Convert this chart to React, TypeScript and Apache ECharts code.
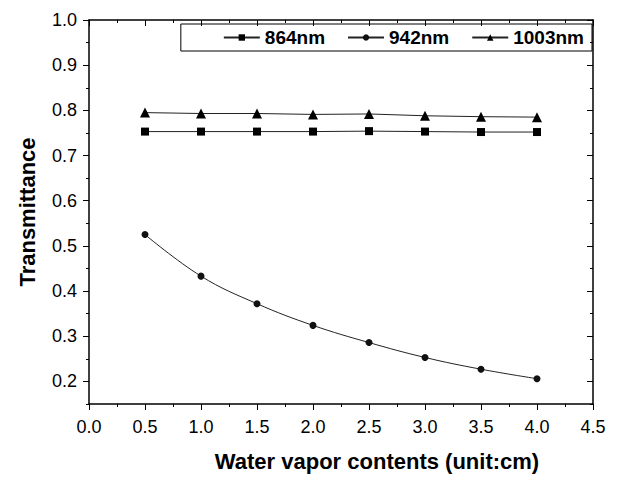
import React, { useEffect, useRef } from "react";
import * as echarts from "echarts";

const xValues = [0.5, 1.0, 1.5, 2.0, 2.5, 3.0, 3.5, 4.0];
const s864 = [0.753, 0.753, 0.753, 0.753, 0.754, 0.753, 0.752, 0.752];
const s942 = [0.525, 0.433, 0.372, 0.324, 0.286, 0.253, 0.227, 0.206];
const s1003 = [0.795, 0.793, 0.793, 0.791, 0.792, 0.788, 0.786, 0.785];
const seriesNames = ["864nm", "942nm", "1003nm"];
const yMajorTicks = [0.2, 0.3, 0.4, 0.5, 0.6, 0.7, 0.8, 0.9, 1.0];
const yMinorTicks = [0.15, 0.25, 0.35, 0.45, 0.55, 0.65, 0.75, 0.85, 0.95];

const FONT = "'Liberation Sans', Arial, sans-serif";

export default function App() {
  const ref = useRef<HTMLDivElement>(null);
  useEffect(() => {
    if (!ref.current) return;
    const chart = echarts.init(ref.current, undefined, { renderer: "svg" });
    const pair = (arr: number[]) => xValues.map((x, i) => [x, arr[i]]);
    const lineStyle = { color: "#222", width: 1 };
    const xBase = {
      type: "value" as const,
      min: 0,
      max: 4.5,
      interval: 0.5,
      splitLine: { show: false },
      axisLine: { show: true, lineStyle: { color: "#000", width: 1.5 } },
      minorTick: { show: true, splitNumber: 2, length: 3, lineStyle: { color: "#000" } },
    };
    const yBase = {
      type: "value" as const,
      min: 0.15,
      max: 1.0,
      splitLine: { show: false },
      axisLine: { show: true, lineStyle: { color: "#000", width: 1.5 } },
    };
    chart.setOption({
      animation: false,
      backgroundColor: "#fff",
      grid: { left: 89, right: 25, top: 20, bottom: 72 },
      legend: {
        right: 26,
        top: 24,
        data: seriesNames,
        itemWidth: 36,
        itemHeight: 8,
        itemGap: 22,
        borderColor: "#000",
        borderWidth: 1,
        padding: [4, 8, 4, 42],
        textStyle: { fontFamily: FONT, fontSize: 19, fontWeight: "bold", color: "#000" },
      },
      xAxis: [
        {
          ...xBase,
          position: "bottom",
          axisTick: { show: true, inside: false, length: 6, lineStyle: { color: "#000" } },
          axisLabel: {
            fontFamily: FONT,
            fontSize: 18,
            color: "#000",
            margin: 14,
            formatter: (v: number) => v.toFixed(1),
          },
          name: "Water vapor contents (unit:cm)",
          nameLocation: "middle",
          nameGap: 46,
          nameTextStyle: {
            fontFamily: FONT,
            fontSize: 22,
            fontWeight: "bold",
            color: "#000",
            padding: [0, 0, 0, 72],
          },
        },
        {
          ...xBase,
          position: "top",
          axisTick: { show: true, inside: true, length: 6, lineStyle: { color: "#000" } },
          minorTick: { show: true, splitNumber: 2, length: 3, lineStyle: { color: "#000" } },
          axisLabel: { show: false },
        },
      ],
      yAxis: [
        {
          ...yBase,
          position: "left",
          axisTick: { show: true, inside: false, length: 6, customValues: yMajorTicks, lineStyle: { color: "#000" } },
          axisLabel: {
            customValues: yMajorTicks,
            fontFamily: FONT,
            fontSize: 18,
            color: "#000",
            margin: 12,
            formatter: (v: number) => v.toFixed(1),
          },
          name: "Transmittance",
          nameLocation: "middle",
          nameRotate: 90,
          nameGap: 51,
          nameTextStyle: { fontFamily: FONT, fontSize: 22, fontWeight: "bold", color: "#000" },
        },
        {
          ...yBase,
          position: "left",
          axisLine: { show: false },
          axisTick: { show: true, inside: false, length: 3, customValues: yMinorTicks, lineStyle: { color: "#000" } },
          axisLabel: { show: false },
        },
        {
          ...yBase,
          position: "right",
          axisTick: { show: true, inside: true, length: 6, customValues: yMajorTicks, lineStyle: { color: "#000" } },
          axisLabel: { show: false },
        },
        {
          ...yBase,
          position: "right",
          axisLine: { show: false },
          axisTick: { show: true, inside: true, length: 3, customValues: yMinorTicks, lineStyle: { color: "#000" } },
          axisLabel: { show: false },
        },
      ],
      series: [
        {
          name: seriesNames[0],
          type: "line",
          data: pair(s864),
          symbol: "rect",
          symbolSize: 8,
          itemStyle: { color: "#000" },
          lineStyle,
        },
        {
          name: seriesNames[1],
          type: "line",
          data: pair(s942),
          symbol: "circle",
          symbolSize: 7,
          smooth: 0.4,
          itemStyle: { color: "#111" },
          lineStyle,
        },
        {
          name: seriesNames[2],
          type: "line",
          data: pair(s1003),
          symbol: "triangle",
          symbolSize: 10,
          itemStyle: { color: "#000" },
          lineStyle,
        },
      ],
    });
    return () => chart.dispose();
  }, []);
  return <div ref={ref} style={{ width: 618, height: 477, position: "absolute", left: 0, top: 0 }} />;
}
